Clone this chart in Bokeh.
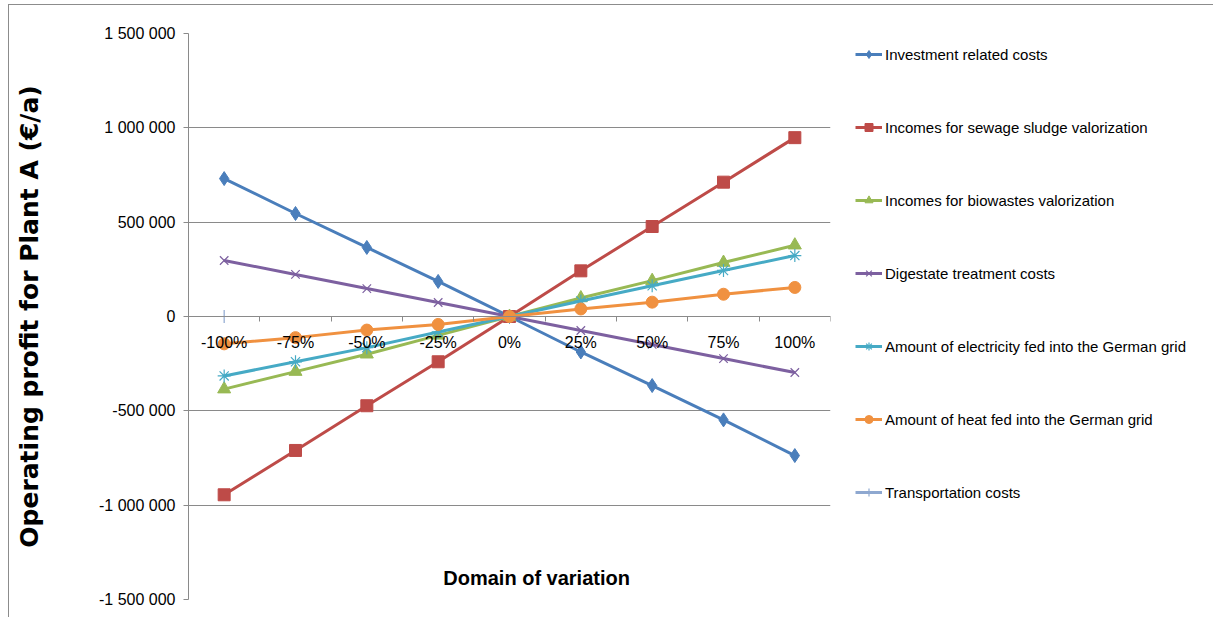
import math
from bokeh.plotting import figure
from bokeh.models import (FixedTicker, CustomJSTickFormatter, Legend, LegendItem, Label, Range1d)
from bokeh.embed import file_html
from bokeh.resources import INLINE

categories = ["-100%", "-75%", "-50%", "-25%", "0%", "25%", "50%", "75%", "100%"]
investment = [731000, 546000, 366000, 186000, 0, -188000, -366000, -548000, -737000]
sewage = [-945000, -710000, -473000, -240000, 0, 242000, 477000, 712000, 948000]
biowastes = [-385000, -292000, -200000, -100000, 0, 98000, 190000, 286000, 378000]
digestate = [297000, 223000, 148000, 74000, 0, -74000, -148000, -223000, -297000]
electricity = [-315000, -240000, -165000, -82000, 0, 82000, 163000, 244000, 323000]
heat = [-145000, -112000, -72000, -42000, 0, 40000, 76000, 118000, 154000]
transport = [0, math.nan, math.nan, math.nan, math.nan, math.nan, math.nan, math.nan, math.nan]
y_ticks = [-1500000, -1000000, -500000, 0, 500000, 1000000, 1500000]

series_names = [
    "Investment related costs",
    "Incomes for sewage sludge valorization",
    "Incomes for biowastes valorization",
    "Digestate treatment costs",
    "Amount of electricity fed into the German grid",
    "Amount of heat fed into the German grid",
    "Transportation costs",
]
series_values = [investment, sewage, biowastes, digestate, electricity, heat, transport]
colors = ["#4A7EBB", "#BE4B48", "#98B954", "#7D60A0", "#46AAC5", "#F09140", "#8EA8D0"]
markers = ["diamond", "square", "triangle", "x", "asterisk", "circle", "cross"]
msizes = [14, 12, 13, 12, 13, 12, 13]

FONT = "Liberation Sans"
GRID = "#8a8a8a"

x = list(range(len(categories)))

p = figure(frame_width=642, frame_height=566, min_border_left=179, min_border_top=28,
           min_border_bottom=18, min_border_right=374,
           x_range=Range1d(-0.5, len(categories) - 0.5),
           y_range=Range1d(y_ticks[0], y_ticks[-1]),
           output_backend="svg", toolbar_location=None,
           background_fill_color="white", border_fill_color="white")
p.outline_line_color = None
p.styles = {"margin-left": "8px", "margin-top": "4px",
            "border-top": "1px solid #8c8c8c", "border-left": "1px solid #8c8c8c"}

# x axis at y = 0
xa = p.xaxis[0]
xa.fixed_location = 0
xa.ticker = FixedTicker(ticks=x, minor_ticks=[i - 0.5 for i in range(len(categories) + 1)])
xa.major_label_overrides = {i: c for i, c in enumerate(categories)}
xa.major_tick_line_color = None
xa.major_tick_out = 0
xa.major_tick_in = 0
xa.minor_tick_out = 5
xa.minor_tick_in = 0
xa.minor_tick_line_color = GRID
xa.axis_line_color = GRID
xa.major_label_text_font = FONT
xa.major_label_text_font_size = "16px"
xa.major_label_text_color = "black"
xa.major_label_standoff = 12

ya = p.yaxis[0]
ya.ticker = FixedTicker(ticks=y_ticks, minor_ticks=[])
ya.formatter = CustomJSTickFormatter(code="return tick.toLocaleString('en-US').replace(/,/g, ' ');")
ya.axis_line_color = GRID
ya.major_tick_line_color = GRID
ya.major_tick_out = 5
ya.major_tick_in = 0
ya.minor_tick_line_color = None
ya.major_label_text_font = FONT
ya.major_label_text_font_size = "16px"
ya.major_label_text_color = "black"
ya.major_label_standoff = 8
ya.axis_label = "Operating profit for Plant A (€/a)"
ya.axis_label_text_font = "DejaVu Sans"
ya.axis_label_text_font_style = "bold"
ya.axis_label_text_font_size = "25px"
ya.axis_label_text_color = "black"
ya.axis_label_standoff = 52

p.xgrid.grid_line_color = None
p.ygrid.grid_line_color = GRID
p.ygrid.grid_line_width = 1

items = []
for name, vals, col, mk, ms in zip(series_names, series_values, colors, markers, msizes):
    lr = p.line(x, vals, line_color=col, line_width=3)
    sr = p.scatter(x, vals, marker=mk, size=ms, fill_color=col, line_color=col,
                   line_width=1.2 if mk in ("x", "asterisk", "cross") else 1)
    items.append(LegendItem(label=name, renderers=[lr, sr]))

legend = Legend(items=items, location=(25, 97), orientation="vertical",
                label_text_font=FONT, label_text_font_size="15px", label_text_color="black",
                glyph_width=27, glyph_height=20, label_height=20, label_standoff=3,
                spacing=53, padding=0, margin=0, border_line_color=None,
                background_fill_alpha=0)
p.add_layout(legend, "right")

title_lbl = Label(x=4.38, y=-1388000, text="Domain of variation", text_align="center",
                  text_baseline="middle", text_font=FONT, text_font_style="bold",
                  text_font_size="20px", text_color="black")
p.add_layout(title_lbl)

open("out.html", "w").write(file_html(p, INLINE))
